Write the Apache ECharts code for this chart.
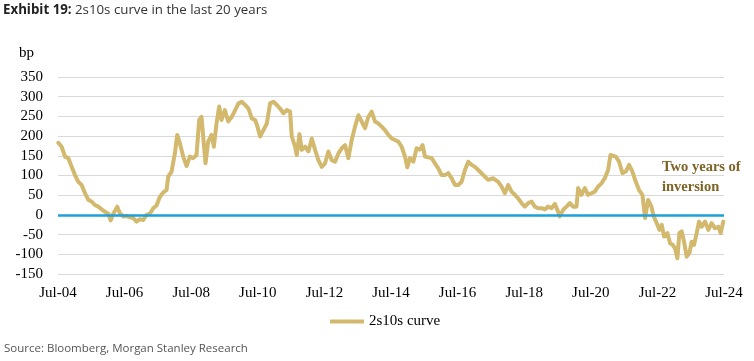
<!DOCTYPE html>
<html>
<head>
<meta charset="utf-8">
<script src="https://cdn.jsdelivr.net/npm/echarts@6/dist/echarts.min.js"></script>
<style>
html,body{margin:0;padding:0;background:#fff;}
#c{width:754px;height:361px;}
</style>
</head>
<body>
<div id="c"></div>
<script>
// Decimal years (time of each reading)
const years = [
2004.51,2004.61,2004.71,2004.81,2004.91,2005.01,2005.11,2005.21,2005.31,2005.41,
2005.51,2005.61,2005.71,2005.81,2005.91,2006.01,2006.08,2006.16,2006.28,2006.36,
2006.46,2006.56,2006.66,2006.76,2006.86,2006.96,2007.06,2007.16,2007.26,2007.36,
2007.46,2007.56,2007.66,2007.76,2007.81,2007.91,2008.01,2008.08,2008.16,2008.26,
2008.36,2008.46,2008.56,2008.66,2008.74,2008.81,2008.86,2008.93,2009.01,2009.11,
2009.18,2009.26,2009.34,2009.41,2009.51,2009.61,2009.72,2009.82,2009.92,2010.02,
2010.12,2010.22,2010.32,2010.42,2010.49,2010.57,2010.67,2010.77,2010.87,2010.97,
2011.07,2011.17,2011.27,2011.37,2011.47,2011.52,2011.62,2011.67,2011.75,2011.82,
2011.92,2012.02,2012.12,2012.22,2012.32,2012.42,2012.52,2012.62,2012.72,2012.82,
2012.92,2013.02,2013.12,2013.22,2013.32,2013.42,2013.52,2013.62,2013.72,2013.82,
2013.92,2014.02,2014.12,2014.22,2014.32,2014.42,2014.52,2014.62,2014.72,2014.82,
2014.92,2014.99,2015.07,2015.17,2015.27,2015.37,2015.45,2015.52,2015.62,2015.72,
2015.82,2015.92,2016.02,2016.12,2016.22,2016.32,2016.42,2016.52,2016.62,2016.72,
2016.82,2016.92,2017.02,2017.12,2017.17,2017.32,2017.42,2017.57,2017.72,2017.82,
2017.92,2018.02,2018.12,2018.22,2018.32,2018.42,2018.52,2018.62,2018.72,2018.82,
2018.92,2019.02,2019.12,2019.22,2019.32,2019.42,2019.52,2019.57,2019.67,2019.77,
2019.87,2019.97,2020.07,2020.12,2020.22,2020.32,2020.42,2020.52,2020.62,2020.72,
2020.82,2020.92,2021.02,2021.09,2021.15,2021.25,2021.35,2021.45,2021.55,2021.65,
2021.75,2021.85,2021.95,2022.05,2022.13,2022.22,2022.32,2022.39,2022.48,2022.56,
2022.63,2022.70,2022.80,2022.88,2022.96,2023.03,2023.10,2023.16,2023.23,2023.30,
2023.38,2023.46,2023.53,2023.60,2023.68,2023.75,2023.83,2023.93,2024.03,2024.13,
2024.23,2024.33,2024.40,2024.48
];
// 2s10s curve, bp
const curve = [
183,173,148,144,122,101,84,76,55,38,
34,25,21,14,8,3,-14,3,21,4,
-4,-3,-6,-8,-17,-11,-13,0,3,17,
24,46,57,63,97,110,156,203,182,148,
124,148,144,152,241,249,199,131,186,203,
173,232,275,241,266,237,249,266,283,287,
279,270,245,241,224,199,215,232,283,287,
279,270,258,266,262,199,173,152,205,165,
173,161,194,165,139,122,131,161,139,135,
156,169,177,144,190,224,253,237,220,249,
262,237,232,224,215,203,194,190,186,173,
148,121,144,135,169,166,177,148,146,144,
131,118,101,101,106,93,76,76,84,114,
135,127,122,114,114,97,89,93,84,72,
55,76,59,51,42,30,21,30,34,21,
17,17,14,21,17,28,8,-4,13,21,
30,21,21,68,51,68,51,55,59,72,
80,93,114,152,156,148,135,106,110,127,
110,84,63,51,-8,38,21,-4,-21,-38,
-25,-55,-46,-72,-76,-85,-110,-46,-42,-68,
-106,-97,-68,-76,-46,-17,-30,-17,-38,-21,
-34,-30,-46,-17
];
const START_YEAR = 2004.5;   // Jul-04
const tickYears = ['04','06','08','10','12','14','16','18','20','22','24'];
const seriesName = '2s10s curve';

const chart = echarts.init(document.getElementById('c'), null, {renderer: 'canvas'});
const data = years.map((y, i) => [y - START_YEAR, curve[i]]);
const serif = '"Liberation Serif","Times New Roman",serif';

chart.setOption({
  animation: false,
  backgroundColor: '#fff',
  grid: {left: 58, right: 30, top: 77, bottom: 87, containLabel: false},
  xAxis: {
    type: 'value', min: 0, max: 20, interval: 2,
    axisLine: {show: false}, axisTick: {show: false}, splitLine: {show: false},
    axisLabel: {
      margin: 12, fontFamily: serif, fontSize: 15, color: '#000',
      formatter: v => 'Jul-' + tickYears[Math.round(v / 2)]
    }
  },
  yAxis: {
    type: 'value', min: -150, max: 350, interval: 50,
    axisLine: {show: false}, axisTick: {show: false},
    splitLine: {lineStyle: {color: '#D9D9D9', width: 1}},
    axisLabel: {margin: 15, fontFamily: serif, fontSize: 15, color: '#000'}
  },
  legend: {
    left: 325, top: 309, icon: 'rect', itemWidth: 34, itemHeight: 4, itemGap: 10,
    textStyle: {fontFamily: serif, fontSize: 15, color: '#000'},
    data: [seriesName]
  },
  graphic: [
    {type: 'text', left: 3, top: 4, style: {
      text: '{b|Exhibit 19:} {r|2s10s curve in the last 20 years}',
      rich: {
        b: {fontFamily: '"Open Sans"', fontWeight: 'bold', fontSize: 13.3, fill: '#222'},
        r: {fontFamily: '"Open Sans"', fontSize: 13.3, fill: '#333'}
      }
    }},
    {type: 'text', left: 19, top: 46, style: {text: 'bp', fontFamily: serif, fontSize: 15, fill: '#000'}},
    {type: 'text', left: 662, top: 157, style: {
      text: 'Two years of\ninversion', fontFamily: serif, fontWeight: 'bold', fontSize: 14.5,
      lineHeight: 20, fill: '#7D6426'
    }},
    {type: 'text', left: 4, top: 343, style: {
      text: 'Source: Bloomberg, Morgan Stanley Research', fontFamily: '"Open Sans"', fontSize: 11.5, fill: '#555'
    }}
  ],
  series: [{
    name: seriesName, type: 'line', data: data, showSymbol: false, symbol: 'none',
    lineStyle: {color: '#D3B96E', width: 4, join: 'round', cap: 'round'}, itemStyle: {color: '#D3B96E'},
    markLine: {
      silent: true, symbol: 'none', label: {show: false},
      lineStyle: {color: '#1BA1DB', width: 2.5, type: 'solid'},
      data: [{yAxis: 0}]
    }
  }]
});
</script>
</body>
</html>
